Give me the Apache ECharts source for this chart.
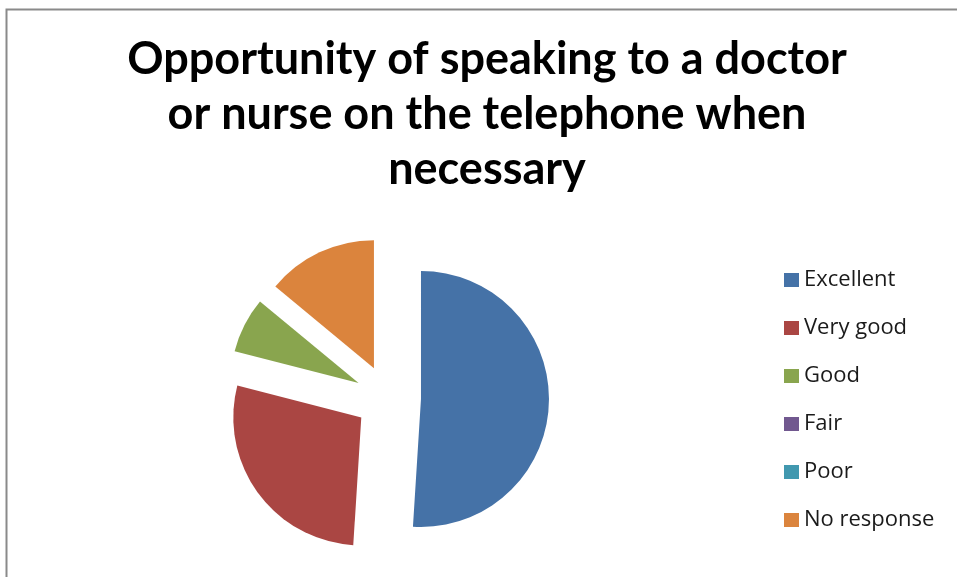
<!DOCTYPE html>
<html>
<head>
<meta charset="utf-8">
<script src="https://cdn.jsdelivr.net/npm/echarts@6/dist/echarts.min.js"></script>
<style>
  html, body { margin: 0; padding: 0; background: #fff; }
  #chart { width: 957px; height: 577px; }
</style>
</head>
<body>
<div id="chart"></div>
<script>
// Survey responses (percent of respondents)
const categories = ['Excellent', 'Very good', 'Good', 'Fair', 'Poor', 'No response'];
const values = [51, 28, 7, 0, 0, 14];
const colors = ['#4572A7', '#AA4643', '#89A54E', '#71588F', '#4198AF', '#DB843D'];
const titleLines = [
  'Opportunity of speaking to a doctor',
  'or nurse on the telephone when',
  'necessary'
];

const chart = echarts.init(document.getElementById('chart'), null, { renderer: 'canvas' });

const pieData = categories.map((name, i) => ({
  name: name,
  value: values[i],
  selected: true,
  itemStyle: { color: colors[i] }
}));

chart.setOption({
  animation: false,
  backgroundColor: '#ffffff',
  title: {
    text: titleLines.join('\n'),
    left: 487,
    top: 32,
    padding: 0,
    textAlign: 'center',
    textStyle: {
      fontFamily: 'Lato',
      fontWeight: 'bold',
      fontSize: 45,
      lineHeight: 55,
      color: '#000000'
    }
  },
  legend: {
    orient: 'vertical',
    left: 784,
    top: 269,
    padding: 0,
    itemWidth: 15,
    itemHeight: 14,
    itemGap: 26,
    icon: 'rect',
    selectedMode: false,
    data: categories,
    textStyle: {
      fontFamily: 'Open Sans',
      fontSize: 22,
      lineHeight: 22,
      color: '#1a1a1a'
    }
  },
  graphic: [
    {
      type: 'polyline',
      shape: { points: [[6.5, 577], [6.5, 9.5], [957, 9.5]] },
      style: { stroke: '#8a8a8a', lineWidth: 2, fill: null },
      silent: true
    }
  ],
  series: [
    {
      type: 'pie',
      center: [388, 398],
      radius: [0, 128],
      startAngle: 90,
      clockwise: true,
      selectedMode: 'multiple',
      selectedOffset: 33,
      label: { show: false },
      labelLine: { show: false },
      emphasis: { disabled: true },
      itemStyle: { borderWidth: 0 },
      data: pieData
    }
  ]
});
</script>
</body>
</html>
